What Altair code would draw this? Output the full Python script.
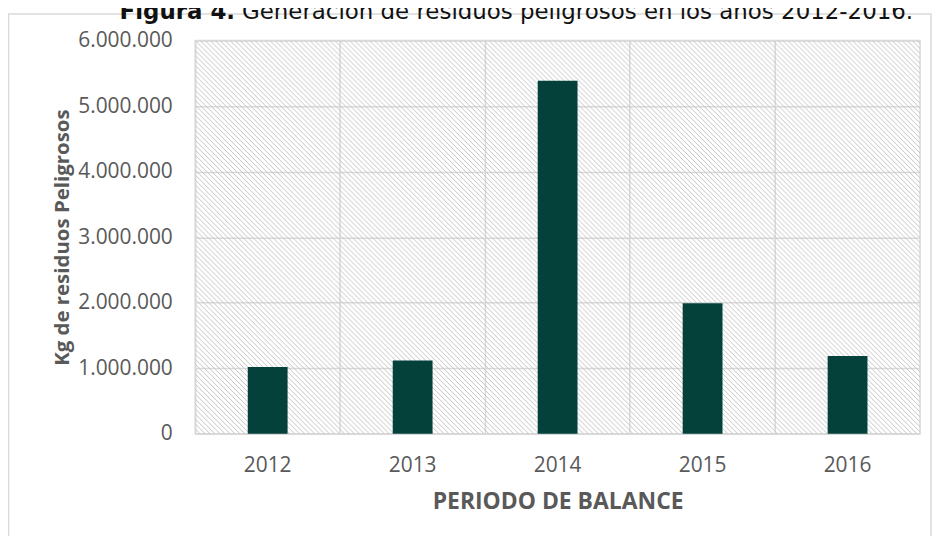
import base64
import altair as alt
import pandas as pd

# ---- data ----
years = ["2012", "2013", "2014", "2015", "2016"]
kg = [1020000, 1120000, 5385000, 1990000, 1185000]
y_ticks = [0, 1000000, 2000000, 3000000, 4000000, 5000000, 6000000]

title_bold = "Figura 4."
title_rest = "Generación de residuos peligrosos en los años 2012-2016."
y_title = "Kg de residuos Peligrosos"
x_title = "PERIODO DE BALANCE"

# ---- layout / style ----
W, H = 728, 395
BAR = "#03413a"
GRID = "#d9d9d9"
TXT = "#595959"

# light downward-diagonal hatch used as the plot-area fill (a style image)
svg = (
    f"<svg xmlns='http://www.w3.org/2000/svg' width='{W}' height='{H}'>"
    "<defs><pattern id='h' width='5' height='5' patternUnits='userSpaceOnUse'>"
    "<path d='M-1,-1 L6,6 M-1,4 L1,6 M4,-1 L6,1' stroke='#c4c4c4' stroke-width='1' "
    "shape-rendering='crispEdges'/></pattern></defs>"
    f"<rect width='{W}' height='{H}' fill='url(#h)'/></svg>"
)
hatch_url = "data:image/svg+xml;base64," + base64.b64encode(svg.encode()).decode()

df = pd.DataFrame({"year": years, "kg": kg})
one = pd.DataFrame({"k": [0]})

hatch = alt.Chart(one).mark_image(
    width=W, height=H, align="left", baseline="top", aspect=False
).encode(x=alt.value(0), y=alt.value(0), url=alt.value(hatch_url))

bars = alt.Chart(df).mark_bar(width=40, color=BAR).encode(
    x=alt.X(
        "year:N",
        sort=years,
        scale=alt.Scale(paddingInner=0, paddingOuter=0),
        axis=alt.Axis(
            title=x_title,
            bandPosition=0,
            grid=True,
            gridColor=GRID,
            gridWidth=1.5,
            domain=False,
            ticks=False,
            labelAngle=0,
            labelPadding=21,
            labelFont="Open Sans",
            labelFontSize=21,
            labelColor=TXT,
            titleFont="Open Sans",
            titleFontSize=23,
            titleFontWeight="bold",
            titleColor=TXT,
            titleY=68.5,
            titleBaseline="middle",
        ),
    ),
    y=alt.Y(
        "kg:Q",
        scale=alt.Scale(domain=[0, 6000000], nice=False),
        axis=alt.Axis(
            title=y_title,
            values=y_ticks,
            labelExpr="replace(format(datum.value, ','), regexp(',', 'g'), '.')",
            grid=True,
            gridColor=GRID,
            gridWidth=1.5,
            domain=False,
            ticks=False,
            labelPadding=23,
            labelFont="Open Sans",
            labelFontSize=21,
            labelColor=TXT,
            titleFont="Open Sans",
            titleFontSize=20.5,
            titleFontWeight="bold",
            titleColor=TXT,
            titleAngle=270,
            titleX=-133,
            titleY=H / 2,
            titleAlign="center",
            titleBaseline="middle",
        ),
    ),
)

frame = alt.Chart(one).mark_rect(fill="transparent", stroke=GRID, strokeWidth=1.5).encode(
    x=alt.value(-187.5), x2=alt.value(739), y=alt.value(-26.5), y2=alt.value(H + 200)
)

t1 = alt.Chart(one).mark_text(
    font="DejaVu Sans", fontSize=23, fontWeight="bold", align="right", baseline="alphabetic", color="#111111"
).encode(x=alt.value(40), y=alt.value(-21.5), text=alt.value(title_bold))

t2 = alt.Chart(one).mark_text(
    font="DejaVu Sans", fontSize=23, align="left", baseline="alphabetic", color="#111111"
).encode(x=alt.value(47), y=alt.value(-21.5), text=alt.value(title_rest))

chart = (
    alt.layer(hatch, bars, frame, t1, t2)
    .properties(
        width=W,
        height=H,
        autosize=alt.AutoSizeParams(type="none"),
        padding={"left": 188, "top": 31.5, "right": 12, "bottom": 101},
    )
    .configure_view(stroke=GRID, strokeWidth=1.5)
)

chart.save("out.html", embed_options={"renderer": "svg", "actions": False})
